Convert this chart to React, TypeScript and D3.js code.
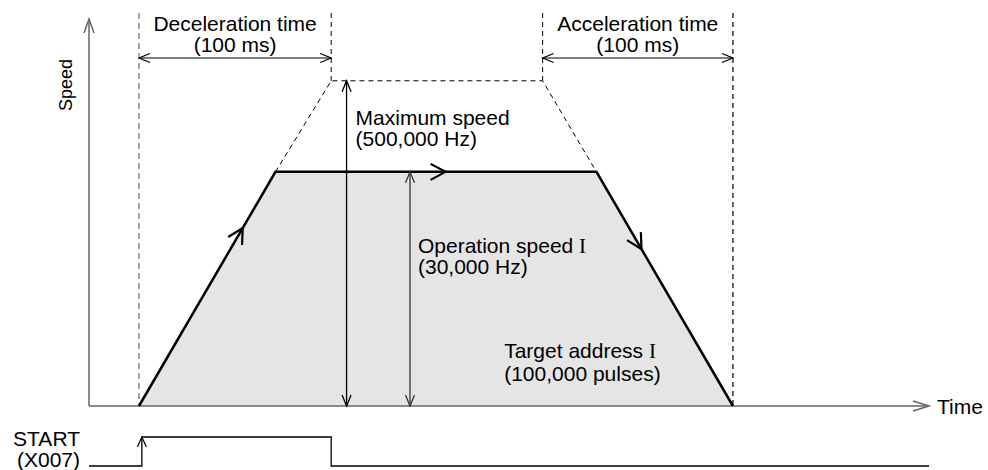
import React from "react";
import * as d3 from "d3";

// time in ms, speed relative to the maximum speed
const timeExtent = [-26, 411];
const speedExtent = [0, 1.19];

const profileTime = [0, 71, 238, 309];
const profileSpeed = [0, 0.72, 0.72, 0];

const maxTime = [71, 100, 210, 238];
const maxSpeed = [0.72, 1, 1, 0.72];

const windowStart = [0, 210];
const windowEnd = [100, 309];
const windowLabels = [
  ["Deceleration time", "(100 ms)"],
  ["Acceleration time", "(100 ms)"],
];

// where the direction arrows sit along each profile segment
const segmentArrowAt = [0.76, 0.53, 0.33];

const maxArrowTime = 108;
const opArrowTime = 141;

const startTime = [-26, 1.5, 1.5, 100, 100, 411];
const startLevel = [0, 0, 1, 1, 0, 0];

const FONT = "'Liberation Sans', Arial, Helvetica, sans-serif";
const SERIF = "'Liberation Serif', 'Times New Roman', serif";

const width = 988;
const height = 470;

function chevron(x: number, y: number, angle: number, len: number, half: number) {
  const dx = Math.cos(angle), dy = Math.sin(angle);
  const px = -dy, py = dx;
  const ax = x - len * dx + half * px, ay = y - len * dy + half * py;
  const bx = x - len * dx - half * px, by = y - len * dy - half * py;
  return `M${ax},${ay}L${x},${y}L${bx},${by}`;
}

export default function App() {
  const x = d3.scaleLinear().domain(timeExtent).range([89, 929]);
  const y = d3.scaleLinear().domain(speedExtent).range([406, 19]);
  const ySig = d3.scaleLinear().domain([0, 1]).range([466, 437]);

  const profile = profileTime.map((t, i) => [x(t), y(profileSpeed[i])] as [number, number]);
  const maxPts = maxTime.map((t, i) => [x(t), y(maxSpeed[i])] as [number, number]);
  const line = d3.line();
  const area = d3
    .area<[number, number]>()
    .x((d) => d[0])
    .y0(y(0))
    .y1((d) => d[1]);

  const signal = startTime.map((t, i) => [x(t), ySig(startLevel[i])] as [number, number]);

  const x0 = x(timeExtent[0]);
  const x1 = x(timeExtent[1]);
  const yBase = y(0);
  const yMax = y(1);
  const yOp = y(profileSpeed[1]);
  const dimY = 58;
  const dashTop = 13;

  const segArrows = segmentArrowAt.map((f, i) => {
    const [ax, ay] = profile[i];
    const [bx, by] = profile[i + 1];
    const ang = Math.atan2(by - ay, bx - ax);
    return chevron(ax + (bx - ax) * f, ay + (by - ay) * f, ang, 15, 8);
  });

  return (
    <svg
      width={width}
      height={height}
      style={{ position: "absolute", left: 0, top: 0, background: "white" }}
      fontFamily={FONT}
    >
      {/* profile fill */}
      <path d={area(profile) || ""} fill="#e5e5e5" />

      {/* window guide lines */}
      <line x1={x(windowStart[0])} x2={x(windowStart[0])} y1={dashTop} y2={yBase} stroke="#888" strokeWidth={1.5} strokeDasharray="6,4" />
      <line x1={x(windowEnd[0])} x2={x(windowEnd[0])} y1={dashTop} y2={yMax} stroke="#000" strokeWidth={1} strokeDasharray="5,4" />
      <line x1={x(windowStart[1])} x2={x(windowStart[1])} y1={dashTop} y2={yMax} stroke="#000" strokeWidth={1} strokeDasharray="5,4" />
      <line x1={x(windowEnd[1])} x2={x(windowEnd[1])} y1={dashTop} y2={yBase} stroke="#000" strokeWidth={1.2} strokeDasharray="5,4" />

      {/* maximum speed profile (dashed) */}
      <path d={line(maxPts) || ""} fill="none" stroke="#000" strokeWidth={1} strokeDasharray="5,4" />

      {/* window dimension arrows and labels */}
      {windowStart.map((t, i) => {
        const a = x(t), b = x(windowEnd[i]);
        const c = (a + b) / 2;
        return (
          <g key={i}>
            <line x1={a} x2={b} y1={dimY} y2={dimY} stroke="#000" strokeWidth={1.2} />
            <path d={chevron(a, dimY, Math.PI, 11, 4.5)} fill="none" stroke="#000" strokeWidth={1.2} />
            <path d={chevron(b, dimY, 0, 11, 4.5)} fill="none" stroke="#000" strokeWidth={1.2} />
            <text x={c} y={31} textAnchor="middle" fontSize={21}>{windowLabels[i][0]}</text>
            <text x={c} y={52} textAnchor="middle" fontSize={21}>{windowLabels[i][1]}</text>
          </g>
        );
      })}

      {/* axes */}
      <line x1={x0} x2={x0} y1={y(speedExtent[1])} y2={yBase} stroke="#666" strokeWidth={1.5} />
      <path d={chevron(x0, y(speedExtent[1]), -Math.PI / 2, 14, 5)} fill="none" stroke="#666" strokeWidth={1.5} />
      <line x1={x0} x2={x1} y1={yBase} y2={yBase} stroke="#666" strokeWidth={1.5} />
      <path d={chevron(x1, yBase, 0, 16, 5)} fill="none" stroke="#666" strokeWidth={1.5} />
      <text transform={`translate(72,${85}) rotate(-90)`} textAnchor="middle" fontSize={18}>Speed</text>
      <text x={937} y={414} fontSize={21}>Time</text>

      {/* speed profile */}
      <path d={line(profile) || ""} fill="none" stroke="#000" strokeWidth={2.5} strokeLinejoin="miter" />
      {segArrows.map((d, i) => (
        <path key={i} d={d} fill="none" stroke="#000" strokeWidth={2.2} />
      ))}

      {/* maximum speed arrow */}
      <line x1={x(maxArrowTime)} x2={x(maxArrowTime)} y1={yMax} y2={yBase} stroke="#000" strokeWidth={1.3} />
      <path d={chevron(x(maxArrowTime), yMax, -Math.PI / 2, 11, 4.5)} fill="none" stroke="#000" strokeWidth={1.3} />
      <path d={chevron(x(maxArrowTime), yBase, Math.PI / 2, 11, 4.5)} fill="none" stroke="#000" strokeWidth={1.3} />
      <text x={x(maxArrowTime) + 9} y={yMax + 44} fontSize={21}>Maximum speed</text>
      <text x={x(maxArrowTime) + 9} y={yMax + 65} fontSize={21}>(500,000 Hz)</text>

      {/* operation speed arrow */}
      <line x1={x(opArrowTime)} x2={x(opArrowTime)} y1={yOp} y2={yBase} stroke="#333" strokeWidth={1.3} />
      <path d={chevron(x(opArrowTime), yOp, -Math.PI / 2, 11, 4.5)} fill="none" stroke="#333" strokeWidth={1.3} />
      <path d={chevron(x(opArrowTime), yBase, Math.PI / 2, 11, 4.5)} fill="none" stroke="#333" strokeWidth={1.3} />
      <text x={x(opArrowTime) + 8} y={yOp + 81} fontSize={21}>
        Operation speed <tspan fontFamily={SERIF}>I</tspan>
      </text>
      <text x={x(opArrowTime) + 8} y={yOp + 102} fontSize={21}>(30,000 Hz)</text>

      {/* target address */}
      <text x={x(190)} y={y(0.147)} fontSize={21}>
        Target address <tspan fontFamily={SERIF}>I</tspan>
      </text>
      <text x={x(190)} y={y(0.147) + 23} fontSize={21}>(100,000 pulses)</text>

      {/* START signal */}
      <path d={line(signal) || ""} fill="none" stroke="#000" strokeWidth={1.3} />
      <path d={chevron(x(startTime[2]), ySig(1), -Math.PI / 2, 10, 4.5)} fill="none" stroke="#000" strokeWidth={1.2} />
      <text x={80} y={446} textAnchor="end" fontSize={21}>START</text>
      <text x={80} y={467} textAnchor="end" fontSize={21}>(X007)</text>
    </svg>
  );
}
